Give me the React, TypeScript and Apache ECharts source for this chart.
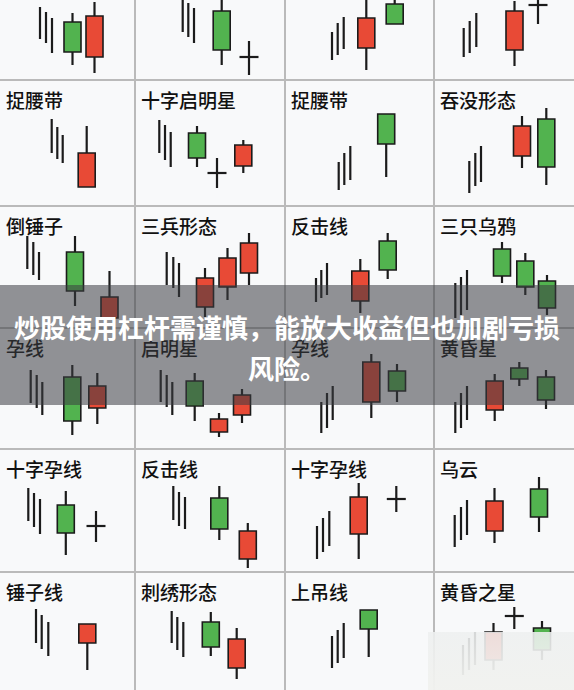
import React, { useEffect, useRef } from "react";
import * as echarts from "echarts";

// ---- layout of the 4 x 6 pattern sheet ----
const colLefts = [0, 135, 285, 434];
const colRights = [135, 285, 434, 574];
const rowTops = [0, 80, 206, 328, 449, 572];
const rowBottoms = [80, 206, 328, 449, 572, 690];

// ---- titles of each cell ----
const row0Titles = ["", "", "", ""];
const row1Titles = ["捉腰带", "十字启明星", "捉腰带", "吞没形态"];
const row2Titles = ["倒锤子", "三兵形态", "反击线", "三只乌鸦"];
const row3Titles = ["孕线", "启明星", "孕线", "黄昏星"];
const row4Titles = ["十字孕线", "反击线", "十字孕线", "乌云"];
const row5Titles = ["锤子线", "刺绣形态", "上吊线", "黄昏之星"];

// ---- trend sticks: [x, low, high] per cell ----
const row0Sticks = [
  [[40, 41, 73], [46, 37, 68], [52, 27, 62]],
  [[47.7, 48, 84], [53.3, 43, 77], [59, 37, 72]],
  [[47, 20, 48], [52.7, 25, 57], [58.7, 31, 63]],
  [[29.7, 23, 52], [35.7, 27, 59], [42.3, 33, 67]],
];
const row1Sticks = [
  [[51.7, 53, 87], [57.3, 47, 79], [62.7, 43, 71]],
  [[24.3, 53, 86], [30, 46, 81], [35.7, 39, 74]],
  [[53.7, 16, 44], [59.3, 21, 53], [65.3, 26, 60]],
  [[35.3, 13, 45], [41.3, 20, 53], [47, 24, 60]],
];
const row2Sticks = [
  [[27.3, 59, 92], [33.3, 53, 86], [39, 48, 76]],
  [[31.7, 43, 76], [38.3, 40, 71], [44, 31, 65]],
  [[31, 26, 50], [36.3, 30, 58], [42, 33, 65]],
  [[21.3, 10, 45], [27, 13, 51], [33, 18, 58]],
];
const row3Sticks = [
  [[30.7, 46, 79], [36.7, 41, 74], [42.3, 34, 67]],
  [[25.7, 47, 79], [31.7, 42, 74], [37.3, 34, 67]],
  [[36.3, 16, 47], [42, 21, 56], [47.7, 29, 63]],
  [[21.3, 16, 47], [27, 21, 56], [33, 29, 63]],
];
const row4Sticks = [
  [[28.3, 51, 84], [34, 45, 79], [40, 38, 73]],
  [[38.3, 52, 86], [44, 46, 80], [50, 43, 75]],
  [[32, 13, 46], [38, 20, 54], [44.3, 26, 61]],
  [[20.7, 25, 57], [27, 32, 65], [33, 37, 72]],
];
const row5Sticks = [
  [[36, 47, 81], [41.7, 41, 75], [48.3, 34, 68]],
  [[36.7, 47, 79], [42.3, 40, 73], [48.3, 33, 68]],
  [[47, 22, 54], [52.7, 27, 60], [58.7, 32, 67]],
  [[29, 15, 45], [35, 20, 52], [41, 25, 58]],
];

// ---- candles: [x, open, close, low, high] per cell (open == close is a doji cross) ----
const row0Candles = [
  [[72.5, 58, 28, 15, 67], [94.5, 23, 64, 7, 78]],
  [[86.7, 69, 30, 15, 86], [114, 23, 23, 5, 39]],
  [[81.3, 32, 62, 10, 86], [109.7, 76, 56, 56, 86]],
  [[80.5, 30, 69, 14, 79], [104, 75, 75, 56, 82]],
];
const row1Candles = [
  [[86.7, 19, 53, 19, 80]],
  [[62, 73, 48, 39, 80], [82, 33, 33, 18, 48], [108.3, 40, 61, 33, 66]],
  [[101.2, 92, 62, 29, 92]],
  [[88, 50, 80, 38, 90], [112.3, 87, 39, 21, 98]],
];
const row2Candles = [
  [[75, 76, 37, 22, 92], [109.5, 10, 31, 10, 57]],
  [[70, 21, 50, 11, 60], [92.5, 41, 70, 28, 80], [114, 55, 85, 43, 95]],
  [[75.3, 27, 57, 15, 69], [102.7, 87, 58, 49, 95]],
  [[68, 79, 52, 45, 86], [91.3, 67, 41, 33, 75], [113, 47, 20, 13, 53]],
];
const row3Candles = [
  [[72.3, 72, 28, 14, 84], [97.3, 41, 63, 25, 76]],
  [[59.7, 68, 43, 28, 76], [84, 17, 30, 12, 36], [107, 34, 54, 26, 60]],
  [[86.3, 47, 87, 31, 95], [112, 78, 58, 47, 85]],
  [[60.7, 39, 68, 28, 75], [85.3, 81, 70, 63, 87], [112, 72, 49, 40, 79]],
];
const row4Candles = [
  [[65.8, 67, 39, 17, 81], [96, 46, 46, 30, 61]],
  [[84.3, 74, 43, 32, 86], [112.8, 13, 41, 4, 49]],
  [[73.7, 38, 75, 13, 89], [111.3, 73, 73, 60, 86]],
  [[60.5, 41, 71, 29, 84], [105, 83, 55, 40, 95]],
];
const row5Candles = [
  [[87.3, 47, 66, 20, 66]],
  [[75.8, 68, 43, 34, 78], [101.7, 22, 51, 11, 62]],
  [[83.7, 80, 61, 33, 80]],
  [[59.5, 30, 58, 20, 67], [80.3, 74, 74, 61, 83], [108, 62, 40, 30, 69]],
];

const bannerLines = ["炒股使用杠杆需谨慎，能放大收益但也加剧亏损", "风险。"];

const allTitles = [row0Titles, row1Titles, row2Titles, row3Titles, row4Titles, row5Titles];
const allSticks = [row0Sticks, row1Sticks, row2Sticks, row3Sticks, row4Sticks, row5Sticks];
const allCandles = [row0Candles, row1Candles, row2Candles, row3Candles, row4Candles, row5Candles];

const INK = "#1b1b1b";
const RED = "#e84a36";
const GREEN = "#52b34f";
const BODY_W = 17;
const CROSS_W = 19;
const FONT = '"Noto Sans CJK SC", "Noto Sans", sans-serif';

const renderStick = (params: any, api: any) => {
  const x = api.value(0);
  const a = api.coord([x, api.value(1)]);
  const b = api.coord([x, api.value(2)]);
  return {
    type: "line",
    shape: { x1: a[0], y1: a[1], x2: b[0], y2: b[1] },
    style: { stroke: INK, lineWidth: 2.2 },
  };
};

const renderCandle = (params: any, api: any) => {
  const x = api.value(0);
  const o = api.value(1);
  const c = api.value(2);
  const lo = api.value(3);
  const hi = api.value(4);
  const pHi = api.coord([x, hi]);
  const pLo = api.coord([x, lo]);
  const pO = api.coord([x, o]);
  const pC = api.coord([x, c]);
  const lineStyle = { stroke: INK, lineWidth: 2.2 };
  if (o === c) {
    const ch = api.size([CROSS_W, 0])[0] / 2;
    return {
      type: "group",
      children: [
        { type: "line", shape: { x1: pHi[0], y1: pHi[1], x2: pLo[0], y2: pLo[1] }, style: lineStyle },
        { type: "line", shape: { x1: pO[0] - ch, y1: pO[1], x2: pO[0] + ch, y2: pO[1] }, style: lineStyle },
      ],
    };
  }
  const half = api.size([BODY_W, 0])[0] / 2;
  const top = Math.min(pO[1], pC[1]);
  const bot = Math.max(pO[1], pC[1]);
  const children: any[] = [];
  if (pHi[1] < top) children.push({ type: "line", shape: { x1: pHi[0], y1: pHi[1], x2: pHi[0], y2: top }, style: lineStyle });
  if (pLo[1] > bot) children.push({ type: "line", shape: { x1: pLo[0], y1: bot, x2: pLo[0], y2: pLo[1] }, style: lineStyle });
  children.push({
    type: "rect",
    shape: { x: pO[0] - half, y: top, width: half * 2, height: bot - top },
    style: { fill: c > o ? RED : GREEN, stroke: INK, lineWidth: 1.6 },
  });
  return { type: "group", children };
};

function buildOption() {
  const grid: any[] = [];
  const xAxis: any[] = [];
  const yAxis: any[] = [];
  const series: any[] = [];
  const graphic: any[] = [];
  let idx = 0;
  for (let r = 0; r < rowTops.length; r++) {
    for (let c = 0; c < colLefts.length; c++) {
      const w = colRights[c] - colLefts[c];
      const h = rowBottoms[r] - rowTops[r];
      grid.push({ left: colLefts[c], top: rowTops[r], width: w, height: h });
      xAxis.push({ type: "value", gridIndex: idx, min: 0, max: w, show: false });
      yAxis.push({ type: "value", gridIndex: idx, min: 0, max: h, show: false });
      series.push({
        type: "custom",
        xAxisIndex: idx,
        yAxisIndex: idx,
        renderItem: renderStick,
        encode: { x: 0, y: [1, 2] },
        data: allSticks[r][c],
        silent: true,
      });
      series.push({
        type: "custom",
        xAxisIndex: idx,
        yAxisIndex: idx,
        renderItem: renderCandle,
        encode: { x: 0, y: [1, 2, 3, 4] },
        data: allCandles[r][c],
        silent: true,
      });
      const t = allTitles[r][c];
      if (t) {
        graphic.push({
          type: "text",
          x: colLefts[c] + 6,
          y: rowTops[r] + 19,
          z: 5,
          style: {
            text: t,
            fill: "#111111",
            fontSize: 19,
            fontWeight: 500,
            fontFamily: FONT,
            textVerticalAlign: "middle",
          },
        });
      }
      idx++;
    }
  }
  // dividers
  for (let c = 1; c < colLefts.length; c++) {
    graphic.push({
      type: "line",
      z: 1,
      shape: { x1: colLefts[c], y1: 0, x2: colLefts[c], y2: 690 },
      style: { stroke: "#bababa", lineWidth: 2 },
    });
  }
  for (let r = 1; r < rowTops.length; r++) {
    graphic.push({
      type: "line",
      z: 1,
      shape: { x1: 0, y1: rowTops[r], x2: 574, y2: rowTops[r] },
      style: { stroke: "#bababa", lineWidth: 2 },
    });
  }
  // grey banner with warning text
  graphic.push({
    type: "rect",
    z: 100,
    shape: { x: 0, y: 285, width: 574, height: 120 },
    style: { fill: "rgba(58,60,66,0.55)" },
  });
  bannerLines.forEach((line, i) => {
    graphic.push({
      type: "text",
      z: 101,
      x: 287,
      y: 326 + i * 41,
      style: {
        text: line,
        fill: "#ffffff",
        fontSize: 26,
        fontWeight: "bold",
        fontFamily: FONT,
        textAlign: "center",
        textVerticalAlign: "middle",
      },
    });
  });
  // blurred watermark patch in the bottom-right corner
  graphic.push({
    type: "rect",
    z: 100,
    shape: { x: 428, y: 632, width: 146, height: 58 },
    style: {
      fill: {
        type: "linear",
        x: 0,
        y: 0,
        x2: 0,
        y2: 1,
        colorStops: [
          { offset: 0, color: "rgba(238,240,240,0.88)" },
          { offset: 1, color: "rgba(241,242,239,0.97)" },
        ],
      },
    },
  });

  return {
    animation: false,
    backgroundColor: "#f8f9fa",
    grid,
    xAxis,
    yAxis,
    series,
    graphic,
  };
}

export default function App() {
  const ref = useRef<HTMLDivElement>(null);
  useEffect(() => {
    document.body.style.margin = "0";
    if (!ref.current) return;
    const chart = echarts.init(ref.current, undefined, { renderer: "svg" });
    chart.setOption(buildOption() as any);
    return () => chart.dispose();
  }, []);
  return (
    <div
      ref={ref}
      style={{ position: "fixed", left: 0, top: 0, width: 574, height: 690 }}
    />
  );
}
